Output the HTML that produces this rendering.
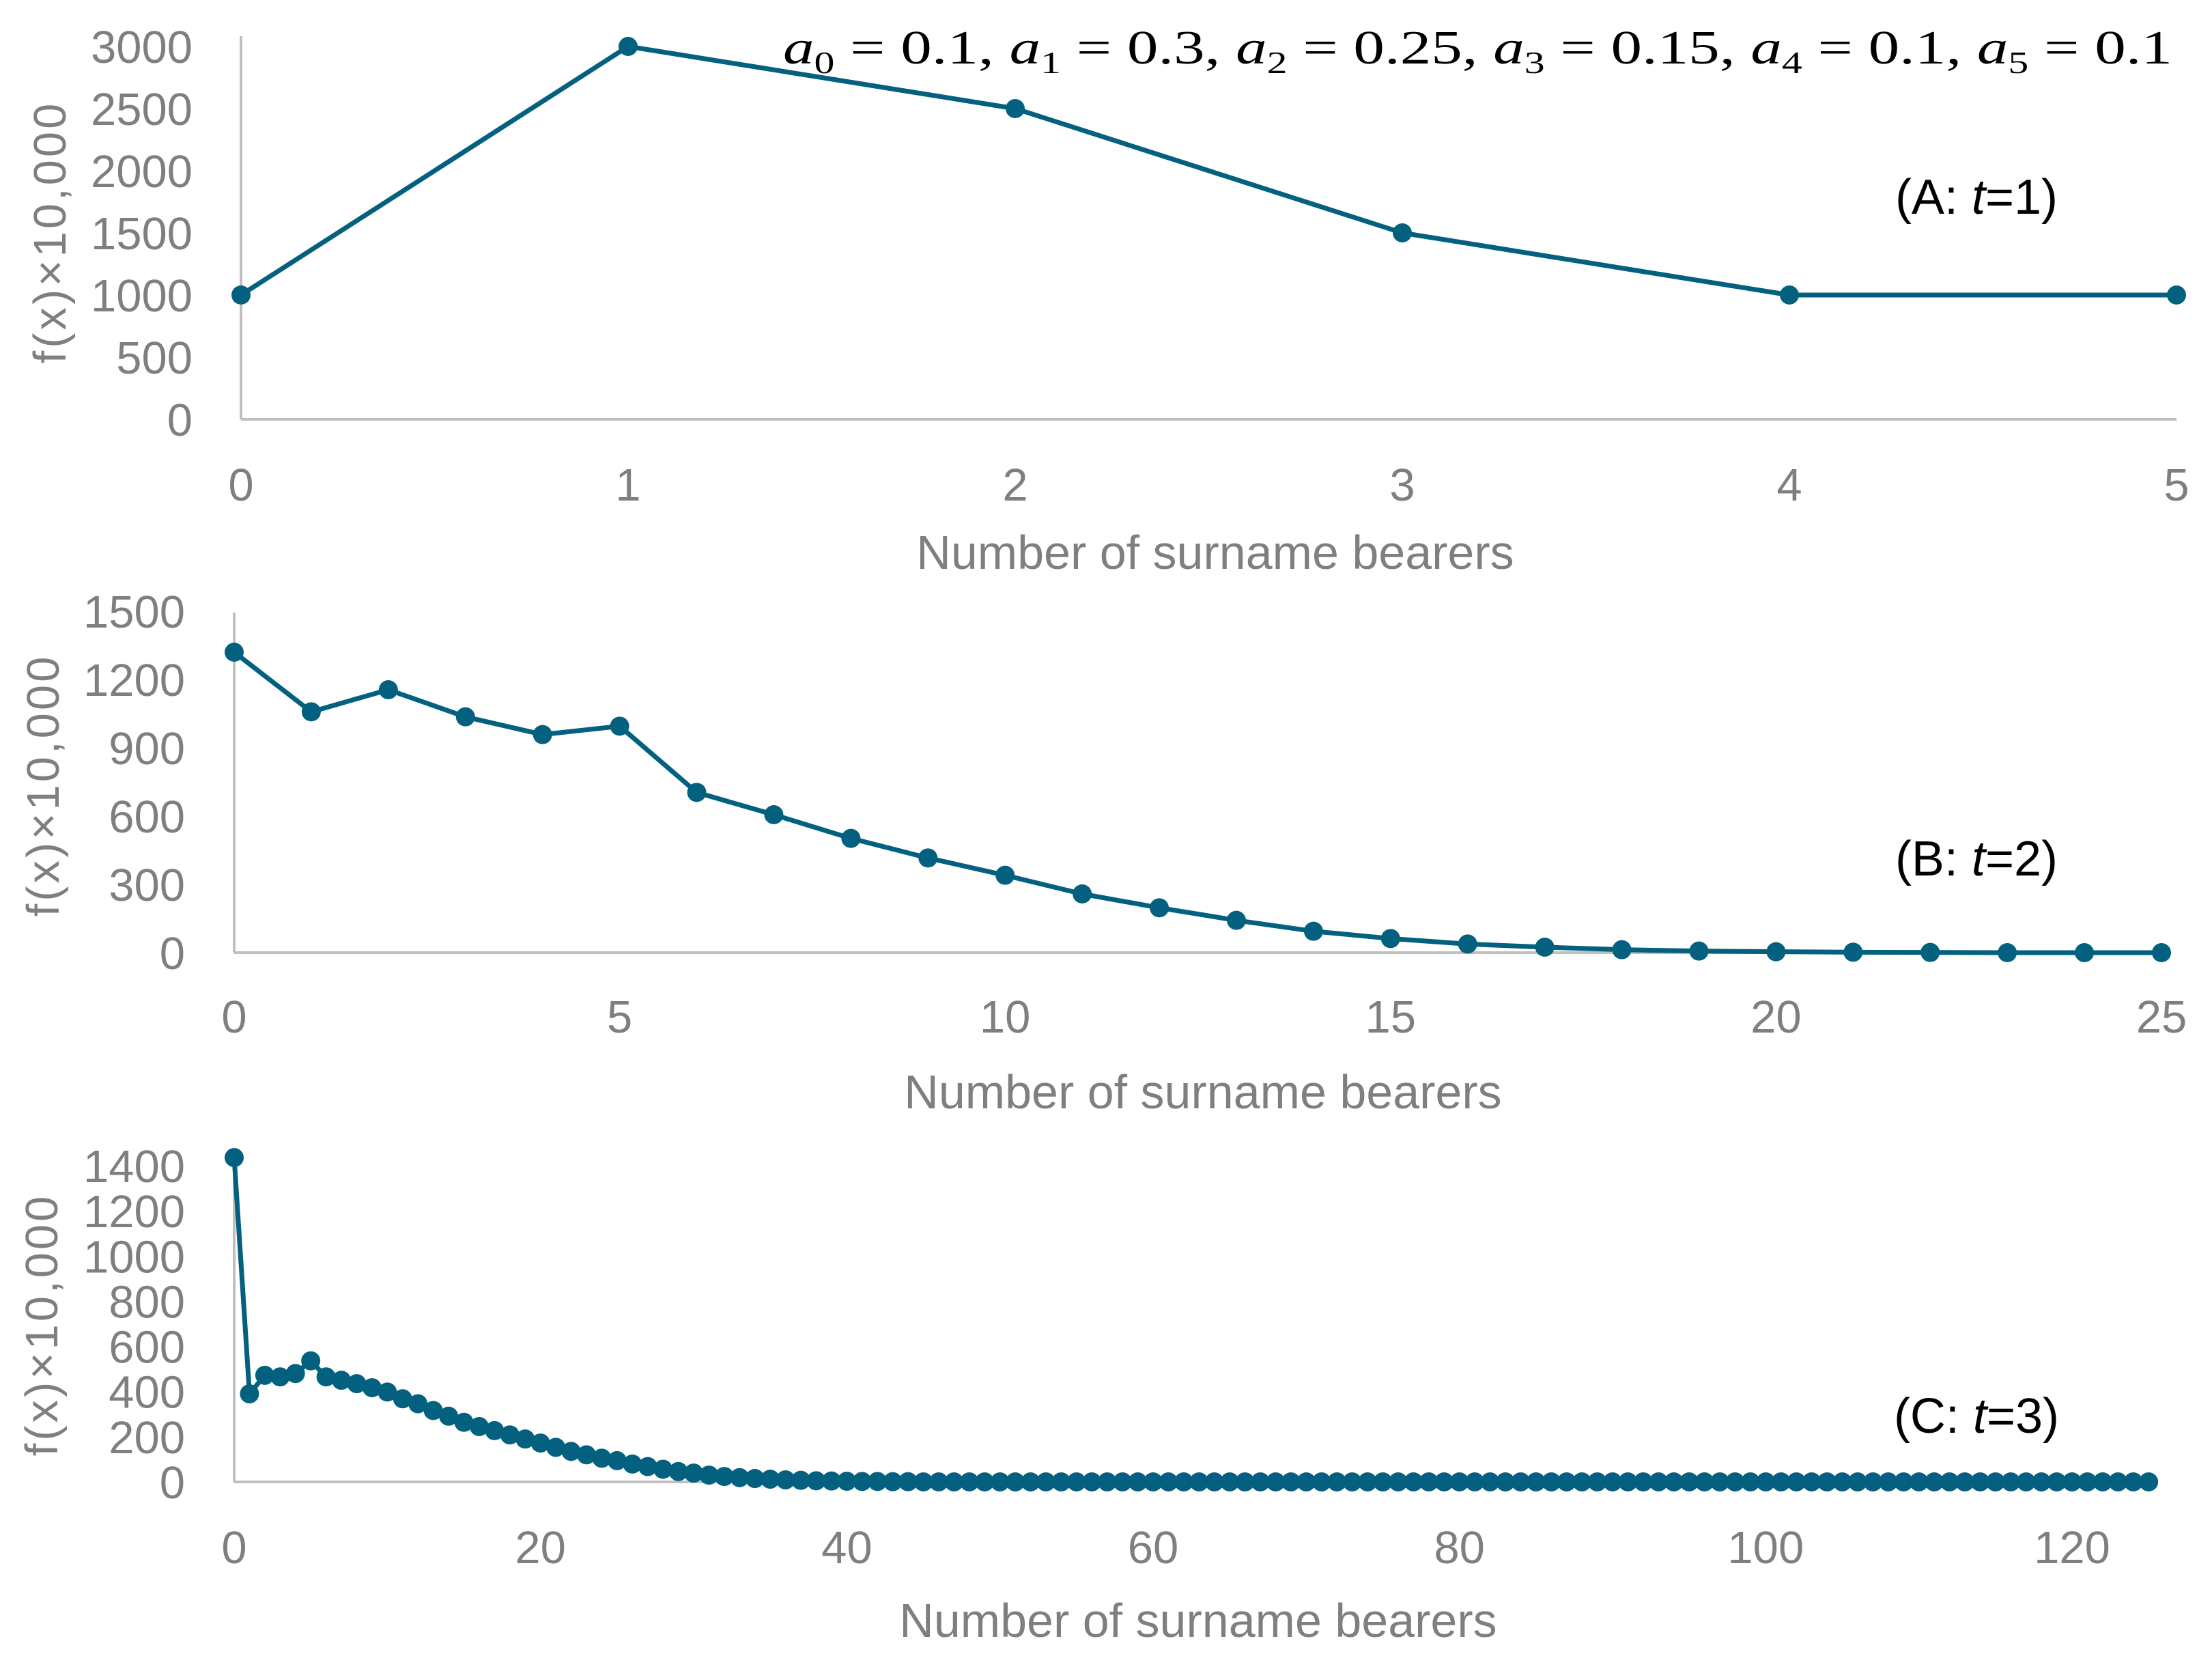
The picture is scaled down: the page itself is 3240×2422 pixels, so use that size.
<!DOCTYPE html>
<html><head><meta charset="utf-8"><style>
html,body{margin:0;padding:0;background:#fff;}
svg{display:block;font-family:"Liberation Sans",Arial,sans-serif;}
</style></head><body>
<svg id="fig" width="3240" height="2422" viewBox="0 0 3240 2422" xmlns="http://www.w3.org/2000/svg">
<text x="3182" y="93" text-anchor="end" font-family="Liberation Serif, serif" font-size="70" fill="#000" textLength="2035" lengthAdjust="spacingAndGlyphs"><tspan font-style="italic">a</tspan><tspan font-size="46" dy="14">0</tspan><tspan dy="-14"> = 0.1, </tspan><tspan font-style="italic">a</tspan><tspan font-size="46" dy="14">1</tspan><tspan dy="-14"> = 0.3, </tspan><tspan font-style="italic">a</tspan><tspan font-size="46" dy="14">2</tspan><tspan dy="-14"> = 0.25, </tspan><tspan font-style="italic">a</tspan><tspan font-size="46" dy="14">3</tspan><tspan dy="-14"> = 0.15, </tspan><tspan font-style="italic">a</tspan><tspan font-size="46" dy="14">4</tspan><tspan dy="-14"> = 0.1, </tspan><tspan font-style="italic">a</tspan><tspan font-size="46" dy="14">5</tspan><tspan dy="-14"> = 0.1</tspan></text>
</svg>
<script>
const catsA = [0,1,2,3,4,5];
const valsA = [1000,3000,2500,1500,1000,1000];
const yTicksA = [0,500,1000,1500,2000,2500,3000];
const xTicksA = [0,1,2,3,4,5];

const catsB = [0,1,2,3,4,5,6,7,8,9,10,11,12,13,14,15,16,17,18,19,20,21,22,23,24,25];
const valsB = [1320,1058,1155,1036,958,995,704,606,502,416,340,258,197,142,94,62,38,24,13,7,4,2,1,0,0,0];
const yTicksB = [0,300,600,900,1200,1500];
const xTicksB = [0,5,10,15,20,25];

const valsC = [1436,390,472,465,480,536,465,450,435,417,398,368,346,316,291,264,245,227,208,190,172,153,135,120,105,94,79,68,56,46,39,30,24,19,15,12,9,7,5,4,3,2,2,1,1];
const yTicksC = [0,200,400,600,800,1000,1200,1400];
const xTicksC = [0,20,40,60,80,100,120];
const maxXC = 125;

const NS = "http://www.w3.org/2000/svg";
const svg = document.getElementById('fig');
function mk(tag, attrs, parent){
  const e = document.createElementNS(NS, tag);
  for (const k in attrs) e.setAttribute(k, attrs[k]);
  (parent||svg).appendChild(e);
  return e;
}
function chart(cfg){
  const g = mk('g', {});
  
  
  const xs = v => cfg.x0 + (v - cfg.xmin) / (cfg.xmax - cfg.xmin) * (cfg.x1 - cfg.x0);
  const ys = v => cfg.y0 - (v - cfg.ymin) / (cfg.ymax - cfg.ymin) * (cfg.y0 - cfg.y1);
  const ya = mk('line', {x1:cfg.x0, x2:cfg.x0, y1:cfg.yTop, y2:cfg.y0, stroke:'#bfbfbf', 'stroke-width':4}, g);
  
  
  const xa = mk('line', {x1:cfg.x0, x2:cfg.xAxisEnd || cfg.x1, y1:cfg.y0, y2:cfg.y0, stroke:'#bfbfbf', 'stroke-width':4}, g);
  
  
  cfg.yTicks.forEach(t => {
    const tx = mk('text', {x:cfg.labelRight, y:ys(t)+24, 'text-anchor':'end', 'font-size':67, fill:'#7f7f7f'}, g);
    tx.textContent = t;
    
    
  });
  cfg.xTicks.forEach(t => {
    const tx = mk('text', {x:xs(t), y:cfg.xLabelY+24, 'text-anchor':'middle', 'font-size':67, fill:'#7f7f7f'}, g);
    tx.textContent = t;
    
    
  });
  const xt = mk('text', {x:cfg.xTitleX, y:cfg.xTitleY+25, 'text-anchor':'middle', 'font-size':70, fill:'#7f7f7f'}, g);
  xt.textContent = 'Number of surname bearers';
  
  
  const yc = cfg.yTitleY;
  const yt = mk('text', {x:cfg.yTitleX, y:yc, 'text-anchor':'middle', 'font-size':67, fill:'#7f7f7f', 'letter-spacing':4, transform:`rotate(-90 ${cfg.yTitleX} ${yc})`, dy:24}, g);
  yt.textContent = 'f(x)\u00d710,000';
  
  
  const pts = cfg.vals.map((v,i) => [xs(cfg.cats ? cfg.cats[i] : i), ys(v)]);
  const pl = mk('polyline', {points: pts.map(p => p.join(',')).join(' '), fill:'none', stroke:'#03607f', 'stroke-width':7, 'stroke-linejoin':'round'}, g);
  
  
  pts.forEach(p => {
    const c = mk('circle', {cx:p[0], cy:p[1], r:14, fill:'#03607f'}, g);
    
    
  });
  const an = mk('text', {x:cfg.annX, y:cfg.annY+26, 'text-anchor':'middle', 'font-size':72, fill:'#000'}, g);
  
  
  const s1 = mk('tspan', {}, an); s1.textContent = '(' + cfg.panel + ': ';
  const s2 = mk('tspan', {'font-style':'italic'}, an); s2.textContent = 't';
  const s3 = mk('tspan', {}, an); s3.textContent = '=' + cfg.t + ')';
}
chart({name:'chart-a', cats:catsA, vals:valsA, yTicks:yTicksA, xTicks:xTicksA,
  xmin:0, xmax:5, ymin:0, ymax:3000, x0:353, x1:3188, y0:614, y1:68, yTop:53,
  labelRight:282, xLabelY:709, xTitleX:1780, xTitleY:808, yTitleX:72, yTitleY:340, annX:2895, annY:287, panel:'A', t:1});
chart({name:'chart-b', cats:catsB, vals:valsB, yTicks:yTicksB, xTicks:xTicksB,
  xmin:0, xmax:25, ymin:0, ymax:1500, x0:343, x1:3166, y0:1395, y1:895, yTop:897,
  labelRight:271, xLabelY:1488, xTitleX:1762, xTitleY:1598, yTitleX:62, yTitleY:1150, annX:2895, annY:1256, panel:'B', t:2});
chart({name:'chart-c', cats:null, vals:valsC.concat(new Array(maxXC+1-valsC.length).fill(0)), yTicks:yTicksC, xTicks:xTicksC,
  xmin:0, xmax:120, ymin:0, ymax:1400, x0:343, x1:3035, xAxisEnd:3160, y0:2170, y1:1707, yTop:1707,
  labelRight:271, xLabelY:2265, xTitleX:1755, xTitleY:2372, yTitleX:60, yTitleY:1940, annX:2895, annY:2072, panel:'C', t:3});
</script>
</body></html>
